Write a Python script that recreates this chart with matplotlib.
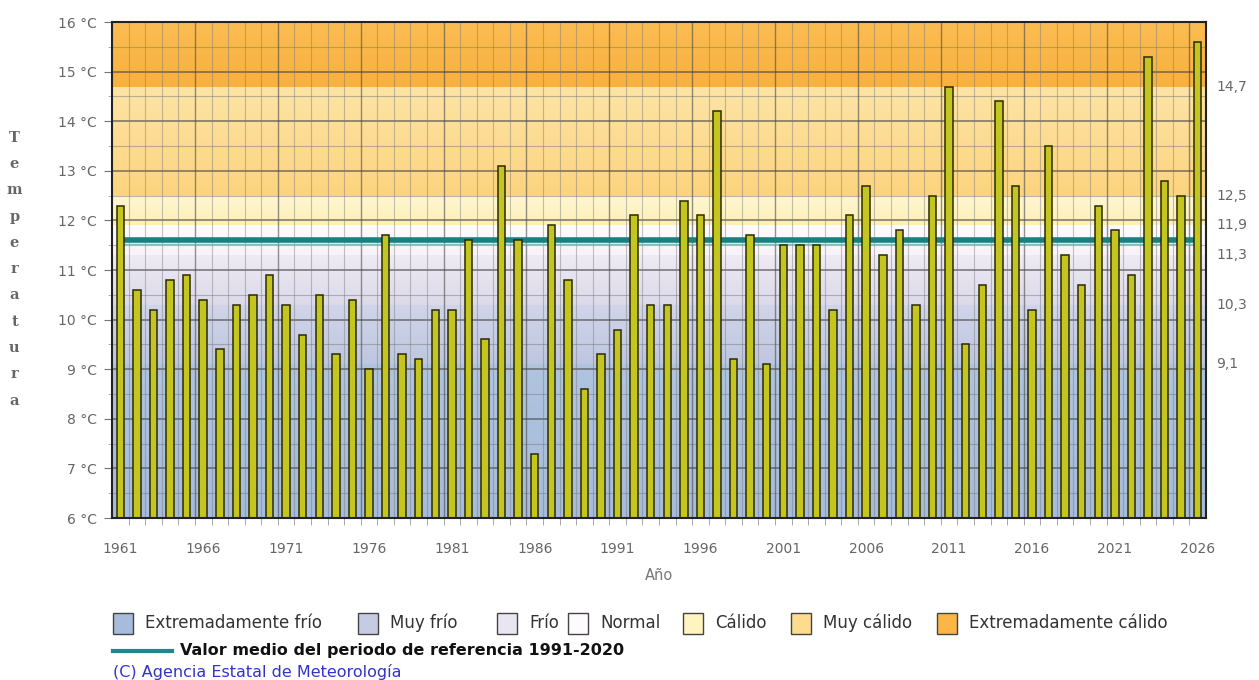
import numpy as np
import matplotlib
matplotlib.use("Agg")
import matplotlib.pyplot as plt
from matplotlib.patches import Rectangle
from matplotlib.lines import Line2D
from matplotlib.colors import to_rgb

# annual mean temperature
years = list(range(1961, 2027))
temps = [12.3, 10.6, 10.2, 10.8, 10.9, 10.4, 9.4, 10.3, 10.5, 10.9,
         10.3, 9.7, 10.5, 9.3, 10.4, 9.0, 11.7, 9.3, 9.2, 10.2,
         10.2, 11.6, 9.6, 13.1, 11.6, 7.3, 11.9, 10.8, 8.6, 9.3,
         9.8, 12.1, 10.3, 10.3, 12.4, 12.1, 14.2, 9.2, 11.7, 9.1,
         11.5, 11.5, 11.5, 10.2, 12.1, 12.7, 11.3, 11.8, 10.3, 12.5,
         14.7, 9.5, 10.7, 14.4, 12.7, 10.2, 13.5, 11.3, 10.7, 12.3,
         11.8, 10.9, 15.3, 12.8, 12.5, 15.6]
ref_mean = 11.6

# category thresholds and names
thresholds = [9.1, 10.3, 11.3, 11.9, 12.5, 14.7]
categories = ["Extremadamente frío", "Muy frío", "Frío", "Normal",
              "Cálido", "Muy cálido", "Extremadamente cálido"]
band_top = ["#b0c4df", "#d1d5e9", "#eeebf4", "#fdfbfd", "#fff7d2", "#fde4a6", "#fbbd52"]
band_bot = ["#a6bcda", "#bec7e0", "#dcd9ea", "#f7f3f8", "#feefb6", "#fcd47e", "#f9b03e"]
legend_cols = ["#a6bcda", "#c6cbe3", "#e9e6f2", "#fdfbfd", "#fff4c0", "#fddc90", "#fbb647"]

ymin, ymax = 6, 16
x0, x1 = years[0] - 0.5, years[-1] + 0.5

fig = plt.figure(figsize=(12.59, 6.8), dpi=100)
ax = fig.add_axes([0.0890, 0.2382, 0.8689, 0.7294])
ax.set_xlim(x0, x1)
ax.set_ylim(ymin, ymax)

# coloured background bands (light gradient inside each band)
edges = [ymin] + thresholds + [ymax]
for i in range(len(categories)):
    lo, hi = edges[i], edges[i + 1]
    c_top = np.array(to_rgb(band_top[i]))
    c_bot = np.array(to_rgb(band_bot[i]))
    t = np.linspace(0, 1, 64)[:, None]
    img = (c_bot * (1 - t) + c_top * t)[:, None, :]
    ax.imshow(img, extent=[x0, x1, lo, hi], origin="lower", aspect="auto",
              zorder=0, interpolation="bilinear")

# grid
for v in np.arange(ymin + 0.5, ymax, 0.5):
    if v % 1 == 0:
        ax.axhline(v, color="#4a4a4a", lw=1.1, alpha=0.75, zorder=1)
    else:
        ax.axhline(v, color="#7a7a7a", lw=0.8, alpha=0.5, zorder=1)
for k, v in enumerate(np.arange(x0 + 1, x1, 1.0)):
    if (k + 1) % 5 == 0:
        ax.axvline(v, color="#4a4a4a", lw=1.0, alpha=0.6, zorder=1)
    else:
        ax.axvline(v, color="#7a7a7a", lw=0.8, alpha=0.45, zorder=1)

# reference mean
ax.plot([years[0], years[-1]], [ref_mean, ref_mean], color="#1a7f80", lw=4,
        solid_capstyle="butt", zorder=2)
ax.plot([years[0], years[-1]], [ref_mean - 0.07, ref_mean - 0.07], color="#7fbcbc",
        lw=1, zorder=2)

# bars
ax.bar(years, [t - ymin for t in temps], bottom=ymin, width=0.45,
       color="#c5c520", edgecolor="#2a2a05", linewidth=1.1, zorder=3)

# axes style
for s in ax.spines.values():
    s.set_color("#222222")
    s.set_linewidth(1.5)
    s.set_zorder(4)

yt = list(range(ymin, ymax + 1))
ax.set_yticks(yt)
ax.set_yticklabels([f"{v} °C" for v in yt])
ax.set_yticks(np.arange(ymin + 0.5, ymax, 0.5), minor=True)
xt = list(range(1961, 2027, 5))
ax.set_xticks(xt)
ax.set_xticklabels([str(v) for v in xt])
ax.set_xticks(np.arange(x0 + 1, x1, 1.0), minor=True)
ax.tick_params(axis="x", which="major", length=0, pad=17, labelsize=10, colors="#666666")
ax.tick_params(axis="x", which="minor", length=5, color="#999999")
ax.tick_params(axis="y", which="major", length=6, pad=5, labelsize=10, colors="#666666",
               color="#777777")
ax.tick_params(axis="y", which="minor", length=3, color="#aaaaaa")
ax.set_xlabel("Año", fontsize=10.5, color="#777777", labelpad=9)

# threshold values on the right
for v in thresholds:
    ax.text(x1 + 0.6, v, f"{v:.1f}".replace(".", ","), fontsize=10,
            color="#666666", va="center", ha="left")

# vertical y-axis label, letter by letter
fig.text(0.0115, 0.808, "\n".join("Temperatura"), fontsize=10.5, fontweight="bold",
         color="#666666", ha="center", va="top", linespacing=2.12,
         family="DejaVu Serif")

# legend row
leg_x = [113, 358, 497, 568, 683, 791, 937]
for xp, name, col in zip(leg_x, categories, legend_cols):
    fig.patches.append(Rectangle((xp / 1259, 1 - 634 / 680), 20 / 1259, 21 / 680,
                                 transform=fig.transFigure, facecolor=col,
                                 edgecolor="#444444", lw=1))
    fig.text((xp + 32) / 1259, 1 - 623 / 680, name, fontsize=12, color="#333333",
             va="center", ha="left")

fig.lines.append(Line2D([113 / 1259, 172 / 1259], [1 - 651 / 680] * 2,
                        transform=fig.transFigure, color="#1a8a8a", lw=3))
fig.text(180 / 1259, 1 - 651 / 680, "Valor medio del periodo de referencia 1991-2020",
         fontsize=11.5, fontweight="bold", color="#111111", va="center", ha="left")
fig.text(113 / 1259, 1 - 672 / 680, "(C) Agencia Estatal de Meteorología",
         fontsize=11.5, color="#3333cc", va="center", ha="left")

fig.savefig("out.png", dpi=100)
